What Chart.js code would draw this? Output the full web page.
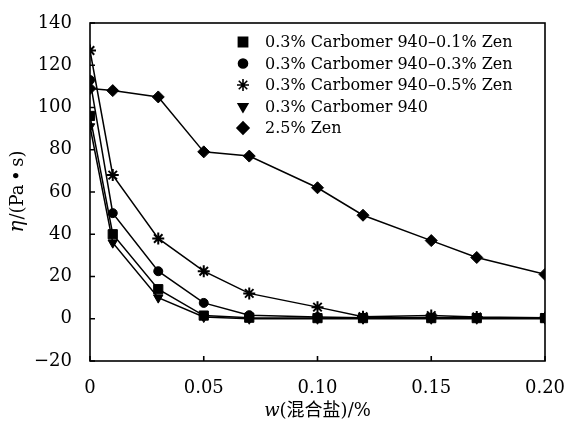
<!DOCTYPE html>
<html lang="zh">
<head>
    <meta charset="UTF-8">
    <title>η vs w</title>
    <script src="https://cdn.jsdelivr.net/npm/chart.js"></script>
    <style>
        html, body {
            margin: 0;
            padding: 0;
            background: #fff;
        }
        #wrap {
            width: 569px;
            height: 423px;
        }
    </style>
</head>
<body>
    <div id="wrap">
        <canvas id="chart" width="569" height="423"></canvas>
    </div>
    <script>
        // Nồng độ muối hỗn hợp (trục x)
        const xs = [0, 0.01, 0.03, 0.05, 0.07, 0.10, 0.12, 0.15, 0.17, 0.20];

        const labels = [
            '0.3% Carbomer 940\u20130.1% Zen',
            '0.3% Carbomer 940\u20130.3% Zen',
            '0.3% Carbomer 940\u20130.5% Zen',
            '0.3% Carbomer 940',
            '2.5% Zen'
        ];

        const zen01 = [96, 40, 14, 1.5, 0.5, 0.3, 0.3, 0.3, 0.3, 0.3];
        const zen03 = [113, 50, 22.5, 7.5, 1.7, 0.8, 0.5, 0.5, 0.5, 0.3];
        const zen05 = [127, 68, 38, 22.5, 12, 5.5, 1, 1.5, 0.8, 0.5];
        const carbomer = [91, 36, 10, 0.8, 0, 0, 0, 0, 0, 0];
        const zen25 = [109, 108, 105, 79, 77, 62, 49, 37, 29, 21];

        const xTicks = [0, 0.05, 0.10, 0.15, 0.20];
        const yTicks = [-20, 0, 20, 40, 60, 80, 100, 120, 140];

        const serif = '"DejaVu Serif", "Liberation Serif", "Noto Sans CJK SC", serif';

        function pts(vals) {
            return xs.map((x, i) => ({ x: x, y: vals[i] }));
        }

        function ds(label, vals, style, rot, r) {
            return {
                label: label,
                data: pts(vals),
                borderColor: '#000',
                backgroundColor: '#000',
                borderWidth: 1.5,
                pointStyle: style,
                rotation: rot,
                pointRadius: r,
                pointBorderWidth: style === 'star' ? 2 : 1,
                tension: 0,
                fill: false
            };
        }

        const datasets = [
            ds(labels[0], zen01, 'rect', 0, 6.5),
            ds(labels[1], zen03, 'circle', 0, 4.5),
            ds(labels[2], zen05, 'star', 0, 6),
            ds(labels[3], carbomer, 'triangle', 180, 5.5),
            ds(labels[4], zen25, 'rectRot', 0, 6)
        ];

        // Khung, vạch chia hướng vào trong, tiêu đề trục và chú giải
        const framePlugin = {
            id: 'frame',
            afterDraw(chart) {
                const c = chart.ctx;
                const a = chart.chartArea;
                const xs_ = chart.scales.x;
                const ys_ = chart.scales.y;
                c.save();
                c.strokeStyle = '#000';
                c.lineWidth = 1.6;
                c.strokeRect(a.left, a.top, a.right - a.left, a.bottom - a.top);

                c.beginPath();
                yTicks.forEach(v => {
                    const y = ys_.getPixelForValue(v);
                    c.moveTo(a.left, y);
                    c.lineTo(a.left + 5, y);
                });
                xTicks.forEach(v => {
                    const x = xs_.getPixelForValue(v);
                    c.moveTo(x, a.bottom);
                    c.lineTo(x, a.bottom - 5);
                });
                c.stroke();

                // tiêu đề trục x
                c.fillStyle = '#000';
                c.textBaseline = 'middle';
                const tx1 = 'w';
                const tx2 = '(混合盐)/%';
                c.font = 'italic 18px ' + serif;
                const w1 = c.measureText(tx1).width;
                c.font = '18px ' + serif;
                const w2 = c.measureText(tx2).width;
                let sx = (a.left + a.right) / 2 - (w1 + w2) / 2;
                c.font = 'italic 18px ' + serif;
                c.textAlign = 'left';
                c.fillText(tx1, sx, 411);
                c.font = '18px ' + serif;
                c.fillText(tx2, sx + w1, 411);

                // tiêu đề trục y
                c.save();
                c.translate(18, (a.top + a.bottom) / 2);
                c.rotate(-Math.PI / 2);
                const ty1 = 'η';
                const ty2 = '/(Pa\u2009\u2022\u2009s)';
                c.font = 'italic 20px ' + serif;
                const v1 = c.measureText(ty1).width;
                c.font = '18px ' + serif;
                const v2 = c.measureText(ty2).width;
                let sy = -(v1 + v2) / 2;
                c.font = 'italic 20px ' + serif;
                c.fillText(ty1, sy, 0);
                c.font = '18px ' + serif;
                c.fillText(ty2, sy + v1 + 1, 0);
                c.restore();

                // chú giải
                const lx = 243;
                const rows = [42, 63.5, 85, 106.5, 128];
                c.font = '16px ' + serif;
                c.textAlign = 'left';
                chart.data.datasets.forEach((d, i) => {
                    c.fillStyle = '#000';
                    c.strokeStyle = '#000';
                    Chart.helpers.drawPoint(c, {
                        pointStyle: d.pointStyle,
                        rotation: d.rotation,
                        radius: d.pointRadius,
                        borderWidth: d.pointBorderWidth
                    }, lx, rows[i]);
                    c.fillText(d.label, 265, rows[i] + 1);
                });
                c.restore();
            }
        };

        const chart = new Chart(document.getElementById('chart'), {
            type: 'line',
            data: { datasets: datasets },
            options: {
                responsive: false,
                animation: false,
                devicePixelRatio: 1,
                layout: { padding: { left: 0, right: 24, top: 23, bottom: 0 } },
                plugins: {
                    legend: { display: false },
                    tooltip: { enabled: false }
                },
                scales: {
                    x: {
                        type: 'linear',
                        min: 0,
                        max: 0.2,
                        grid: { display: false },
                        border: { display: false },
                        afterBuildTicks(s) {
                            s.ticks = xTicks.map(v => ({ value: v }));
                        },
                        afterFit(s) {
                            s.height = 62;
                            s.paddingLeft = 0;
                            s.paddingRight = 0;
                        },
                        ticks: {
                            color: '#000',
                            padding: 9,
                            maxRotation: 0,
                            font: { family: serif, size: 18 },
                            callback: v => v === 0 ? '0' : v.toFixed(2)
                        }
                    },
                    y: {
                        type: 'linear',
                        min: -20,
                        max: 140,
                        grid: { display: false },
                        border: { display: false },
                        afterBuildTicks(s) {
                            s.ticks = yTicks.map(v => ({ value: v }));
                        },
                        afterFit(s) {
                            s.width = 90;
                            s.paddingTop = 0;
                            s.paddingBottom = 0;
                        },
                        ticks: {
                            color: '#000',
                            padding: 10,
                            font: { family: serif, size: 18 },
                            callback: v => v < 0 ? '\u2212' + Math.abs(v) : String(v)
                        }
                    }
                }
            },
            plugins: [framePlugin]
        });
    </script>
</body>
</html>
